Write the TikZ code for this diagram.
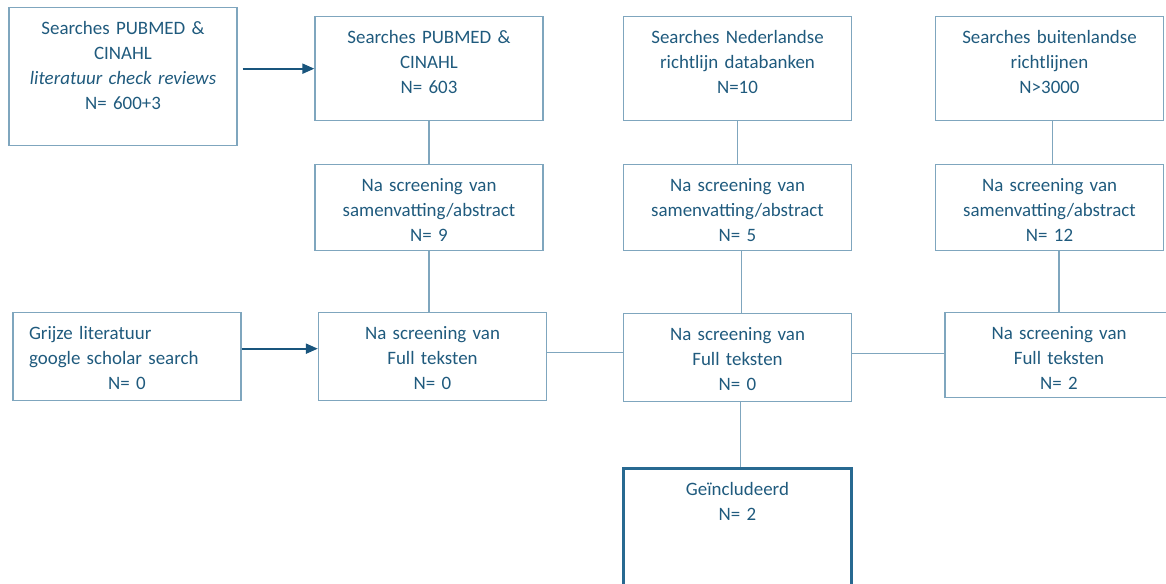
\documentclass[tikz,border=0pt]{standalone}
\usepackage{fontspec}
\setmainfont{Carlito}
\usetikzlibrary{arrows.meta}

\definecolor{textblue}{RGB}{31,90,125}
\definecolor{boxline}{RGB}{127,166,190}
\definecolor{arrowblue}{RGB}{25,85,125}
\definecolor{finalline}{RGB}{40,105,145}

\begin{document}
\begin{tikzpicture}[x=0.75pt, y=-0.75pt,
	stepbox/.style={draw=boxline, line width=1pt, text=textblue, font=\fontsize{14.2pt}{18.75pt}\selectfont,
		anchor=north, text width=171pt, align=center, inner sep=0pt, text height=20.25pt, text depth=#1},
	link/.style={draw=boxline, line width=0.8pt},
	feed/.style={draw=arrowblue, line width=1.5pt, -{Triangle[length=9pt, width=7.5pt]}}]
			\useasboundingbox (0,0) rectangle (1166,583);
			\clip (0,0) rectangle (1166,583);
			\node[stepbox=83.25pt] (search-0) at (123, 7) {Searches PUBMED \&\\CINAHL\\\textit{literatuur check reviews}\\N= 600+3};
			\node[stepbox=57.75pt] (search-1) at (429, 16) {Searches PUBMED \&\\CINAHL\\N= 603};
			\node[stepbox=57.75pt] (search-2) at (737.5, 16) {Searches Nederlandse\\richtlijn databanken\\N=10};
			\node[stepbox=57.75pt] (search-3) at (1049.5, 16) {Searches buitenlandse\\richtlijnen\\N>3000};
			\node[stepbox=44.25pt] (abstract-1) at (429, 164) {Na screening van\\samenvatting/abstract\\N= 9};
			\node[stepbox=44.25pt] (abstract-2) at (737.5, 164) {Na screening van\\samenvatting/abstract\\N= 5};
			\node[stepbox=44.25pt] (abstract-3) at (1049.5, 164) {Na screening van\\samenvatting/abstract\\N= 12};
			\node[stepbox=45.75pt, text width=147pt, inner xsep=12pt, align=left] (grey-0) at (127, 312) {Grijze literatuur\\google scholar search\\\hfill N= 0\hfill\null};
			\node[stepbox=45.75pt] (full-1) at (432.5, 312) {Na screening van\\Full teksten\\N= 0};
			\node[stepbox=45.75pt] (full-2) at (737.5, 313) {Na screening van\\Full teksten\\N= 0};
			\node[stepbox=43.5pt] (full-3) at (1059, 312) {Na screening van\\Full teksten\\N= 2};
			\node[stepbox=100pt, draw=finalline, line width=2pt] (included) at (737.5, 467) {Geïncludeerd\\N= 2};
			\draw[feed] ([xshift=3.75pt]search-0.east |- search-1.west) -- (search-1.west);
			\draw[feed] ([yshift=6pt]grey-0.east) -- ([yshift=6pt]full-1.west);
			\draw[link] (search-1.south) -- (abstract-1.north);
			\draw[link] (search-2.south) -- (abstract-2.north);
			\draw[link] ([xshift=2pt]search-3.south) -- ([xshift=2pt]abstract-3.north);
			\draw[link] (abstract-1.south) -- (abstract-1.south |- full-1.north);
			\draw[link] ([xshift=3pt]abstract-2.south) -- ([xshift=3pt]full-2.north);
			\draw[link] (full-3.north |- abstract-3.south) -- (full-3.north);
			\draw[link] ([yshift=3pt]full-1.east) -- ([yshift=3pt]full-1.east -| full-2.west);
			\draw[link] ([yshift=3pt]full-2.east) -- ([yshift=3pt]full-2.east -| full-3.west);
			\draw[link] ([xshift=2pt]full-2.south) -- ([xshift=2pt]included.north);
		\end{tikzpicture}
\end{document}
